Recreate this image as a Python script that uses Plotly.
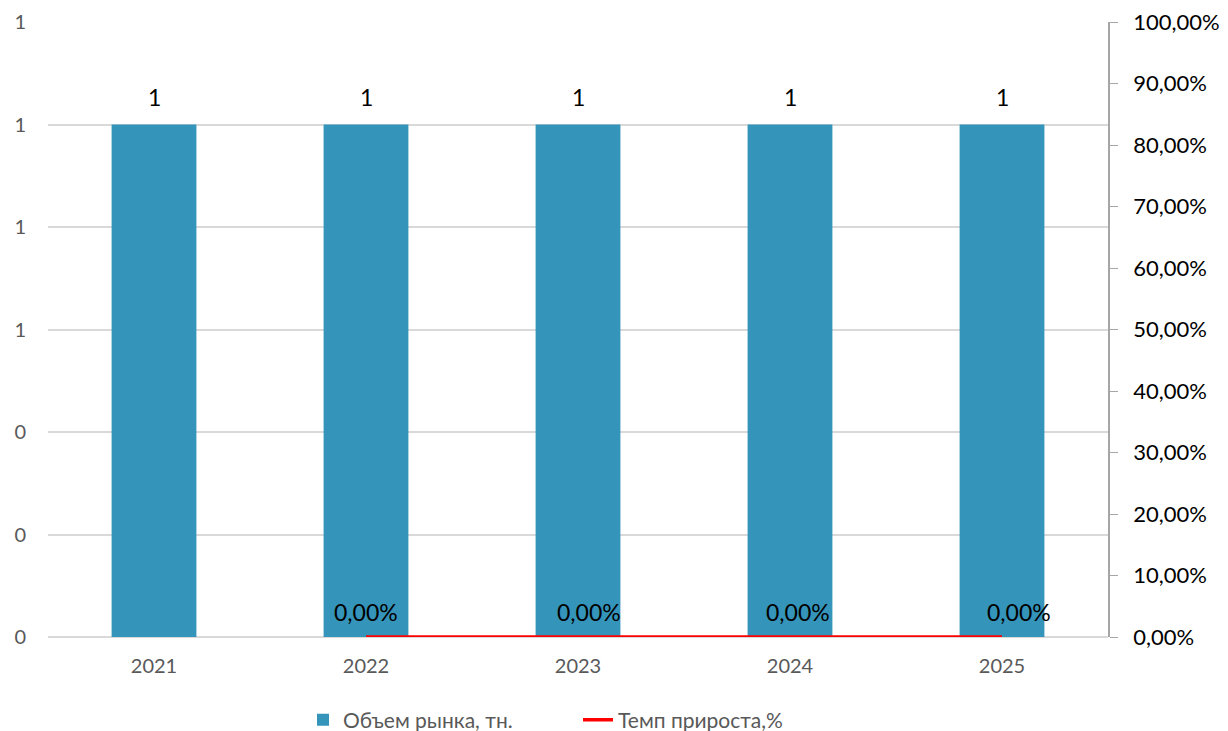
import plotly.graph_objects as go

years = [2021, 2022, 2023, 2024, 2025]
year_labels = ["2021", "2022", "2023", "2024", "2025"]
volume = [1, 1, 1, 1, 1]
growth_years = [2022, 2023, 2024, 2025]
growth = [0.0, 0.0, 0.0, 0.0]
growth_label_xshift = [0, 11, 8, 17]
pct_ticks = [0.0, 0.1, 0.2, 0.3, 0.4, 0.5, 0.6, 0.7, 0.8, 0.9, 1.0]
pct_tick_labels = ["0,00%", "10,00%", "20,00%", "30,00%", "40,00%", "50,00%",
                   "60,00%", "70,00%", "80,00%", "90,00%", "100,00%"]

FONT = "Lato"
fig = go.Figure()
fig.add_trace(go.Bar(
    x=years, y=volume, name="Объем рынка, тн.",
    marker=dict(color="#3594BA", line=dict(width=0)),
    width=0.4, yaxis="y", xaxis="x",
))
fig.add_trace(go.Scatter(
    x=growth_years, y=growth, name="Темп прироста,%",
    mode="lines", line=dict(color="#FF0000", width=3.5),
    yaxis="y2", xaxis="x", cliponaxis=False,
))
for x, v in zip(years, volume):
    fig.add_annotation(x=x, y=v, xref="x", yref="y", text=f"{v:.0f}", showarrow=False,
                       yshift=28, font=dict(size=23, color="#000000", family=FONT))
for x, v, dx in zip(growth_years, growth, growth_label_xshift):
    fig.add_annotation(x=x, y=v, xref="x", yref="y2",
                       text=f"{v*100:.2f}%".replace(".", ","), showarrow=False,
                       yshift=25, xshift=dx, font=dict(size=23, color="#000000", family=FONT))

fig.update_layout(
    width=1220, height=723,
    margin=dict(l=40, r=120, t=14, b=94, autoexpand=False),
    plot_bgcolor="white", paper_bgcolor="white",
    separators=", ",
    font=dict(family=FONT),
    xaxis=dict(type="linear", range=[2020.5, 2025.5], tickvals=years, ticktext=year_labels,
               showgrid=False, showline=False, ticks="", zeroline=False,
               ticklabelstandoff=15, automargin=False,
               tickfont=dict(size=20, color="#595959", family=FONT)),
    yaxis=dict(range=[0, 1.2], dtick=0.2, tickformat=".0f", showgrid=True,
               gridcolor="#D9D9D9", gridwidth=1.5, zeroline=True, zerolinecolor="#D9D9D9",
               zerolinewidth=2, showline=False, ticks="", automargin=False,
               ticklabelstandoff=21, ticklabeloverflow="allow",
               tickfont=dict(size=20, color="#595959", family=FONT)),
    yaxis2=dict(range=[0, 1], tickmode="array", tickvals=pct_ticks, ticktext=pct_tick_labels,
                overlaying="y", side="right",
                anchor="x", showgrid=False, zeroline=False, showline=True, linecolor="#A6A6A6",
                linewidth=1.5, ticks="outside", ticklen=8, tickcolor="#A6A6A6",
                ticklabelstandoff=11, automargin=False, ticklabeloverflow="allow",
                tickfont=dict(size=22, color="#000000", family=FONT)),
    legend=dict(orientation="h", x=0.5, xanchor="center", y=-0.135, yanchor="middle",
                entrywidth=230, entrywidthmode="pixels",
                font=dict(size=21, color="#595959", family=FONT)),
    showlegend=True,
)
fig.write_html("out.html")
